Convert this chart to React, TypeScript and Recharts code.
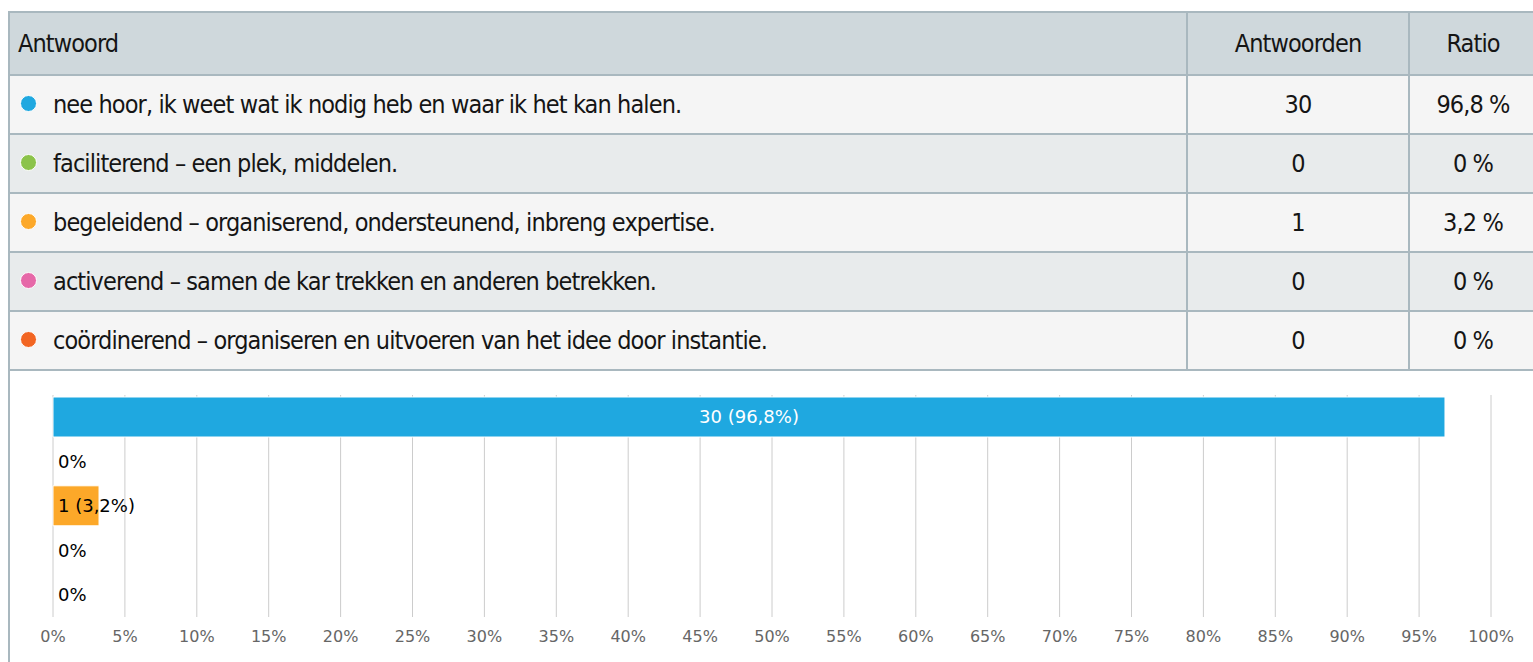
import { BarChart, Bar, XAxis, YAxis, CartesianGrid, Cell, LabelList } from 'recharts'

const answers = [
  'nee hoor, ik weet wat ik nodig heb en waar ik het kan halen.',
  'faciliterend – een plek, middelen.',
  'begeleidend – organiserend, ondersteunend, inbreng expertise.',
  'activerend – samen de kar trekken en anderen betrekken.',
  'coördinerend – organiseren en uitvoeren van het idee door instantie.',
]
const counts = [30, 0, 1, 0, 0]
const ratios = [96.8, 0, 3.2, 0, 0]
const colors = ['#1fa8e0', '#8bc34a', '#fca829', '#e668a8', '#f26522']
const xTicks = [0, 5, 10, 15, 20, 25, 30, 35, 40, 45, 50, 55, 60, 65, 70, 75, 80, 85, 90, 95, 100]

const fmt = (n: number) => String(n).replace('.', ',')

const data = answers.map((a, i) => ({
  name: a,
  ratio: ratios[i],
  label: counts[i] === 0 ? '0%' : `${counts[i]} (${fmt(ratios[i])}%)`,
}))

const tableFont = "'DejaVu Sans', sans-serif"
const chartFont = "'DejaVu Sans', sans-serif"
const lineColor = '#a9b8bf'

function BarLabel(props: any) {
  const { x, y, width, height, value } = props
  const inside = width > 120
  return (
    <text
      x={inside ? x + width / 2 : x + 5}
      y={y + height / 2}
      dy="0.35em"
      textAnchor={inside ? 'middle' : 'start'}
      fill={inside ? '#ffffff' : '#000000'}
      fontSize={18}
      fontFamily={chartFont}
    >
      {value}
    </text>
  )
}

const cellBase: React.CSSProperties = {
  borderRight: `2px solid ${lineColor}`,
  borderBottom: `2px solid ${lineColor}`,
  padding: 0,
}

export default function App() {
  return (
    <div style={{ position: 'absolute', left: 0, top: 0, width: 1533, height: 662, overflow: 'hidden', background: '#fff' }}>
      <style>{'body{margin:0;overflow:hidden}'}</style>
      <div
        style={{
          position: 'absolute',
          left: 8,
          top: 11,
          width: 1540,
          height: 700,
          borderLeft: `2px solid ${lineColor}`,
        }}
      >
        <table
          style={{
            borderCollapse: 'collapse',
            tableLayout: 'fixed',
            width: 1527,
            fontFamily: tableFont,
            fontStretch: 'condensed',
            fontSize: 25,
            letterSpacing: -0.9,
            color: '#151515',
            borderTop: `2px solid ${lineColor}`,
          }}
        >
          <colgroup>
            <col style={{ width: 1177 }} />
            <col style={{ width: 222 }} />
            <col style={{ width: 128 }} />
          </colgroup>
          <thead>
            <tr style={{ height: 63, background: '#cfd8dc' }}>
              <td style={{ ...cellBase, paddingLeft: 8, textAlign: 'left' }}>Antwoord</td>
              <td style={{ ...cellBase, textAlign: 'center' }}>Antwoorden</td>
              <td style={{ ...cellBase, textAlign: 'center' }}>Ratio</td>
            </tr>
          </thead>
          <tbody>
            {answers.map((a, i) => (
              <tr key={a} style={{ height: 59, background: i % 2 === 0 ? '#f5f5f5' : '#e8ebec' }}>
                <td style={{ ...cellBase, paddingLeft: 10, whiteSpace: 'nowrap' }}>
                  <span
                    style={{
                      display: 'inline-block',
                      width: 15,
                      height: 15,
                      borderRadius: '50%',
                      background: colors[i],
                      border: '1px solid #fff',
                      marginRight: 16,
                      verticalAlign: 'middle',
                      position: 'relative',
                      top: -3,
                    }}
                  />
                  {a}
                </td>
                <td style={{ ...cellBase, textAlign: 'center' }}>{counts[i]}</td>
                <td style={{ ...cellBase, textAlign: 'center' }}>{fmt(ratios[i])} %</td>
              </tr>
            ))}
          </tbody>
        </table>
      </div>
      <div style={{ position: 'absolute', left: 0, top: 368 }}>
        <BarChart
          width={1533}
          height={294}
          data={data}
          layout="vertical"
          barCategoryGap={2}
          margin={{ top: 27, right: 42, bottom: 0, left: 53 }}
        >
          <CartesianGrid horizontal={false} stroke="#cccccc" />
          <XAxis
            type="number"
            dataKey="ratio"
            domain={[0, 100]}
            ticks={xTicks}
            tickFormatter={(v: number) => `${v}%`}
            axisLine={false}
            tickLine={false}
            tick={{ fill: '#666666', fontSize: 16, fontFamily: chartFont }}
            tickMargin={8}
            height={45}
            interval={0}
          />
          <YAxis
            type="category"
            dataKey="name"
            width={0}
            tick={false}
            tickLine={false}
            axisLine={{ stroke: '#ccd6eb' }}
          />
          <Bar dataKey="ratio" isAnimationActive={false} minPointSize={2}>
            {data.map((d, i) => (
              <Cell
                key={d.name}
                fill={d.ratio > 0 ? colors[i] : 'transparent'}
                stroke={d.ratio > 0 ? '#ffffff' : 'none'}
                strokeWidth={1}
              />
            ))}
            <LabelList dataKey="label" content={BarLabel} />
          </Bar>
        </BarChart>
      </div>
    </div>
  )
}
